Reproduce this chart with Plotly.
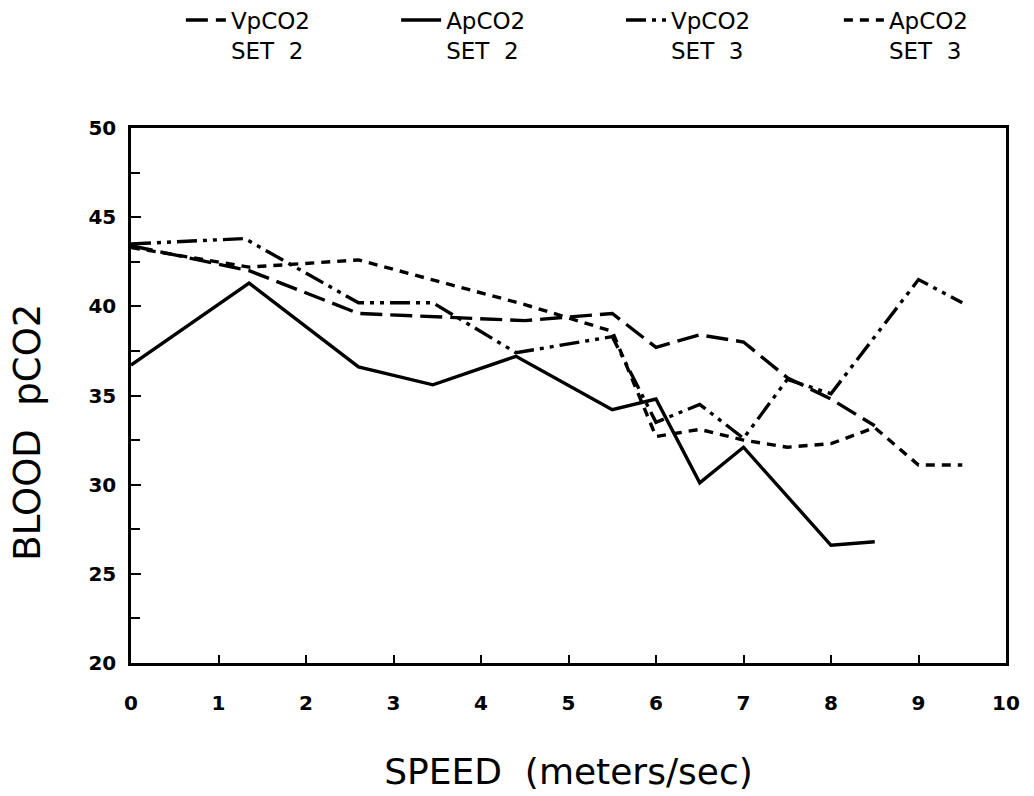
import plotly.graph_objects as go

# Blood pCO2 vs running speed, two sets of venous / arterial samples
speed_v2 = [0, 1.35, 2.6, 3.5, 4.5, 5.5, 6.0, 6.5, 7.0, 7.5, 8.0, 8.5]
vpco2_set2 = [43.4, 42.0, 39.6, 39.4, 39.2, 39.6, 37.7, 38.4, 38.0, 36.0, 34.8, 33.3]

speed_a2 = [0, 1.35, 2.6, 3.45, 4.4, 5.5, 6.0, 6.5, 7.0, 8.0, 8.5]
apco2_set2 = [36.7, 41.3, 36.6, 35.6, 37.2, 34.2, 34.8, 30.1, 32.1, 26.6, 26.8]

speed_v3 = [0, 1.3, 2.6, 3.45, 4.4, 5.5, 6.0, 6.5, 7.0, 7.5, 8.0, 9.0, 9.5]
vpco2_set3 = [43.5, 43.8, 40.2, 40.2, 37.4, 38.3, 33.5, 34.5, 32.6, 35.9, 35.1, 41.5, 40.2]

speed_a3 = [0, 1.35, 2.6, 3.5, 4.5, 5.5, 6.0, 6.5, 7.0, 7.5, 8.0, 8.5, 9.0, 9.5]
apco2_set3 = [43.3, 42.2, 42.6, 41.4, 40.1, 38.6, 32.7, 33.1, 32.5, 32.1, 32.3, 33.2, 31.1, 31.1]

series_names = ["VpCO2<br>SET  2", "ApCO2<br>SET  2", "VpCO2<br>SET  3", "ApCO2<br>SET  3"]
x_ticks = list(range(0, 11))
y_ticks = list(range(20, 51, 5))
x_title = "SPEED  (meters/sec)"
y_title = "BLOOD  pCO2"

styles = [
    "22px,8px",
    "solid",
    "20px,6px,4px,6px,4px,6px",
    "9px,7px",
]
# each series gets its own legend box along the top edge
legend_ids = ["legend", "legend2", "legend3", "legend4"]
legend_x = [0.057, 0.303, 0.560, 0.809]

text_font = "DejaVu Sans, Liberation Sans, Arial, sans-serif"

fig = go.Figure()
for name, xs, ys, dash, lg in zip(
    series_names,
    [speed_v2, speed_a2, speed_v3, speed_a3],
    [vpco2_set2, apco2_set2, vpco2_set3, apco2_set3],
    styles,
    legend_ids,
):
    fig.add_trace(go.Scatter(
        x=xs, y=ys, mode="lines", name=name, legend=lg,
        line=dict(color="black", width=3.4, dash=dash),
    ))

legend_common = dict(
    orientation="h", xanchor="left", y=1.242, yanchor="top",
    font=dict(size=23, family=text_font),
    itemwidth=40, valign="top",
    bgcolor="rgba(0,0,0,0)", borderwidth=0,
)
layout_legends = {
    lg: dict(legend_common, x=lx) for lg, lx in zip(legend_ids, legend_x)
}

fig.update_layout(
    width=1034, height=796,
    margin=dict(l=131, r=28, t=128, b=133, autoexpand=False),
    paper_bgcolor="white", plot_bgcolor="white",
    font=dict(family=text_font, color="black"),
    showlegend=True,
    **layout_legends,
    xaxis=dict(
        range=[0, 10], tickvals=x_ticks, ticktext=[str(v) for v in x_ticks],
        showgrid=False, zeroline=False,
        showline=True, mirror=True, linecolor="black", linewidth=2.5,
        ticks="inside", ticklen=8, tickwidth=2, tickcolor="black",
        tickfont=dict(size=20, weight="bold", family=text_font),
        ticklabelstandoff=20,
        title=dict(text=x_title, font=dict(size=36, family=text_font), standoff=46),
    ),
    yaxis=dict(
        range=[20, 50], tickvals=y_ticks, ticktext=[str(v) for v in y_ticks],
        showgrid=False, zeroline=False,
        showline=True, mirror=True, linecolor="black", linewidth=2.5,
        ticks="inside", ticklen=10, tickwidth=2, tickcolor="black",
        minor=dict(dtick=2.5, tick0=20, ticks="inside", ticklen=9, tickwidth=2, tickcolor="black", showgrid=False),
        tickfont=dict(size=20, weight="bold", family=text_font),
        ticklabelstandoff=8,
    ),
    annotations=[dict(
        text=y_title, textangle=-90, showarrow=False,
        xref="paper", yref="paper", x=-0.118, y=0.432,
        xanchor="center", yanchor="middle",
        font=dict(size=37, family=text_font),
    )],
)

fig.write_html("out.html")
